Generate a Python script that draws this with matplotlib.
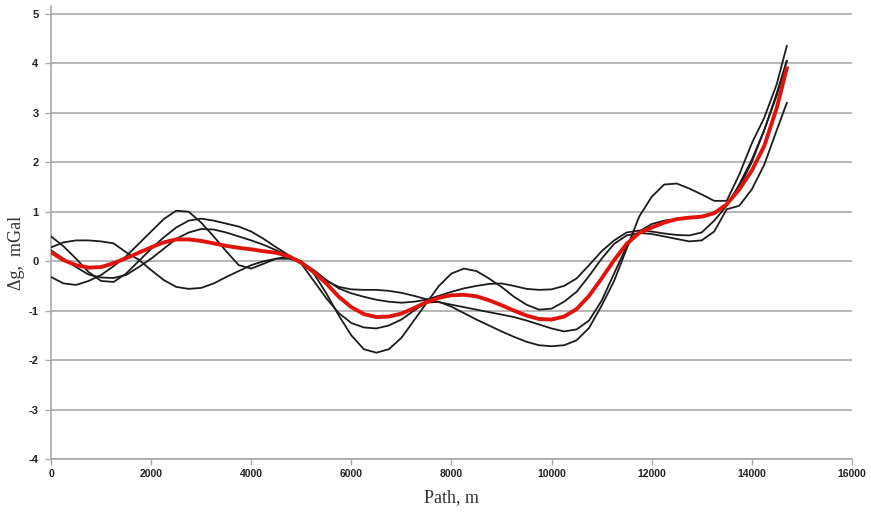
import numpy as np
import matplotlib
matplotlib.use("Agg")
import matplotlib.pyplot as plt

# path, m (every 250 m, last point at the end of the profile)
x = list(range(0, 14501, 250)) + [14700]

# individual profiles (black)
k1 = [0.5, 0.3, 0.05, -0.22, -0.4, -0.42, -0.25, 0.0, 0.25, 0.48,
      0.68, 0.82, 0.86, 0.82, 0.76, 0.7, 0.6, 0.45, 0.28, 0.12,
      -0.05, -0.4, -0.75, -1.05, -1.25, -1.34, -1.36, -1.3, -1.18, -1.0,
      -0.84, -0.82, -0.92, -1.05, -1.18, -1.3, -1.42, -1.53, -1.63, -1.7,
      -1.72, -1.7, -1.6, -1.35, -0.9, -0.4, 0.25, 0.9, 1.3, 1.55,
      1.57, 1.47, 1.35, 1.22, 1.22, 1.75, 2.38, 2.9, 3.58, 4.35]
k2 = [0.28, 0.38, 0.42, 0.42, 0.4, 0.36, 0.18, 0.03, -0.18, -0.38,
      -0.52, -0.56, -0.54, -0.45, -0.32, -0.2, -0.08, 0.0, 0.05, 0.05,
      -0.02, -0.18, -0.38, -0.55, -0.65, -0.72, -0.78, -0.82, -0.84, -0.82,
      -0.78, -0.7, -0.62, -0.55, -0.5, -0.46, -0.45, -0.5, -0.56, -0.58,
      -0.57, -0.5, -0.35, -0.08, 0.2, 0.42, 0.58, 0.62, 0.6, 0.56,
      0.53, 0.52, 0.58, 0.82, 1.12, 1.55, 2.05, 2.65, 3.4, 4.05]
k3 = [-0.32, -0.45, -0.48, -0.4, -0.28, -0.1, 0.1, 0.35, 0.6, 0.85,
      1.02, 1.0, 0.78, 0.5, 0.2, -0.08, -0.15, -0.05, 0.05, 0.1,
      0.0, -0.25, -0.65, -1.1, -1.5, -1.78, -1.85, -1.78, -1.55, -1.2,
      -0.85, -0.5, -0.25, -0.15, -0.2, -0.35, -0.52, -0.72, -0.88, -0.98,
      -0.96, -0.82, -0.62, -0.3, 0.05, 0.35, 0.52, 0.57, 0.55, 0.5,
      0.45, 0.4, 0.42, 0.6, 1.05, 1.12, 1.45, 1.95, 2.65, 3.2]
k5 = [0.22, 0.05, -0.12, -0.27, -0.33, -0.34, -0.28, -0.12, 0.05, 0.25,
      0.45, 0.58, 0.65, 0.64, 0.58, 0.5, 0.42, 0.33, 0.22, 0.1,
      -0.05, -0.22, -0.4, -0.52, -0.57, -0.58, -0.58, -0.6, -0.64, -0.7,
      -0.77, -0.83, -0.88, -0.93, -0.98, -1.03, -1.08, -1.13, -1.2, -1.28,
      -1.36, -1.42, -1.38, -1.2, -0.8, -0.25, 0.3, 0.6, 0.75, 0.82,
      0.85, 0.87, 0.9, 0.97, 1.15, 1.5, 2.0, 2.65, 3.35, 4.05]

# mean profile (red)
mean = [0.18, 0.02, -0.08, -0.13, -0.12, -0.04, 0.06, 0.17, 0.28, 0.38,
        0.44, 0.44, 0.41, 0.36, 0.31, 0.27, 0.24, 0.2, 0.17, 0.1,
        -0.03, -0.22, -0.45, -0.72, -0.93, -1.07, -1.13, -1.12, -1.06, -0.95,
        -0.83, -0.74, -0.69, -0.68, -0.71, -0.79, -0.89, -1.0, -1.1, -1.17,
        -1.18, -1.12, -0.97, -0.7, -0.35, 0.02, 0.35, 0.57, 0.68, 0.78,
        0.85, 0.88, 0.9, 0.97, 1.15, 1.45, 1.83, 2.33, 3.1, 3.9]

xticks = list(range(0, 16001, 2000))
yticks = list(range(-4, 6))

fig = plt.figure(figsize=(8.71, 5.17), dpi=100)
ax = fig.add_axes([0.0586, 0.1122, 0.9194, 0.8762])

grid_c = "#a9a9a9"
for yv in yticks:
    ax.axhline(yv, color=grid_c, lw=1.2, zorder=1)

for k in (k1, k2, k3, k5):
    ax.plot(x, k, color="#1c1c1c", lw=1.3, zorder=3, solid_joinstyle="round")
ax.plot(x, mean, color="#e0140c", lw=2.8, zorder=4, solid_joinstyle="round")

ax.set_xlim(0, 16000)
ax.set_ylim(-4, 5.16)
ax.set_xticks(xticks)
ax.set_yticks(yticks)
ax.set_xticklabels([str(t) for t in xticks], fontsize=7.5, fontweight="bold",
                   family="Liberation Sans", color="#222222")
ax.set_yticklabels([str(t) for t in yticks], fontsize=8, fontweight="bold",
                   family="Liberation Sans", color="#222222")
ax.tick_params(axis="x", length=4, width=1, color=grid_c, pad=3)
ax.tick_params(axis="y", length=4, width=1, color=grid_c, pad=5)

for s in ("top", "right"):
    ax.spines[s].set_visible(False)
ax.spines["left"].set_color(grid_c)
ax.spines["left"].set_linewidth(1.2)
ax.spines["bottom"].set_color(grid_c)
ax.spines["bottom"].set_linewidth(1.2)

fig.text(0.518, 0.038, "Path, m", family="Liberation Serif", fontsize=13,
         ha="center", va="center", color="#333333")
fig.text(0.019, 0.51, "\u0394g,  mGal", family="Liberation Serif", fontsize=13,
         rotation=90, ha="center", va="center", color="#333333")

fig.savefig("out.png", dpi=100)
